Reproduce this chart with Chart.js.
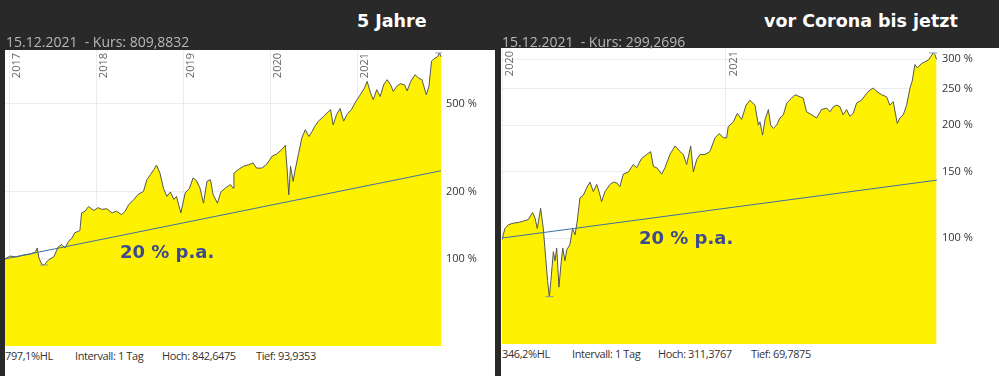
<!DOCTYPE html>
<html lang="de">
<head>
<meta charset="utf-8">
<title>5 Jahre / vor Corona bis jetzt</title>
<script src="https://cdn.jsdelivr.net/npm/chart.js@4.4.1/dist/chart.umd.min.js"></script>
<style>
  html, body { margin: 0; padding: 0; }
  body { width: 999px; height: 376px; background: #292929; position: relative; overflow: hidden; font-family: 'Open Sans', sans-serif; }
  .panel { position: absolute; background: #fff; }
  .abs { position: absolute; white-space: nowrap; }
  .title { color: #fff; font: bold 17.5px 'DejaVu Sans', sans-serif; line-height: 20px; }
  .kurs { color: #b8b8b8; font-size: 14px; line-height: 16px; }
  .info { color: #333; font-size: 11px; line-height: 13px; letter-spacing: -0.4px; }
  .pa { color: #3d4a8f; font: bold 18px 'DejaVu Sans', sans-serif; line-height: 20px; }
  canvas { position: absolute; }
</style>
</head>
<body>

<div class="panel" style="left:5px; top:50px; width:490px; height:326px;"></div>
<div class="panel" style="left:501px; top:48px; width:498px; height:328px;"></div>

<canvas id="chart5y" width="489" height="296" style="left:5px; top:50px;"></canvas>
<canvas id="chartCorona" width="497" height="296" style="left:502px; top:48px;"></canvas>

<div class="abs title" style="left:357px; top:11px;">5 Jahre</div>
<div class="abs title" style="left:764px; top:11px;">vor Corona bis jetzt</div>

<div class="abs kurs" style="left:6px; top:34px;">15.12.2021&nbsp; - Kurs: 809,8832</div>
<div class="abs kurs" style="left:502px; top:34px;">15.12.2021&nbsp; - Kurs: 299,2696</div>

<div class="abs pa" style="left:120px; top:242px;">20 % p.a.</div>
<div class="abs pa" style="left:639px; top:228px;">20 % p.a.</div>

<div class="abs info" style="left:5px; top:349px;">797,1%HL</div>
<div class="abs info" style="left:75px; top:349px;">Intervall: 1 Tag</div>
<div class="abs info" style="left:162px; top:349px;">Hoch: 842,6475</div>
<div class="abs info" style="left:256px; top:349px;">Tief: 93,9353</div>

<div class="abs info" style="left:502px; top:347px;">346,2%HL</div>
<div class="abs info" style="left:572px; top:347px;">Intervall: 1 Tag</div>
<div class="abs info" style="left:658px; top:347px;">Hoch: 311,3767</div>
<div class="abs info" style="left:751px; top:347px;">Tief: 69,7875</div>

<script>
// ---- 5 Jahre (dates as decimal years, values in % of start) ----
const dates5y = [
  2016.95, 2017.01, 2017.08, 2017.16, 2017.24, 2017.30, 2017.32, 2017.34, 2017.37, 2017.40,
  2017.45, 2017.51, 2017.56, 2017.60, 2017.64, 2017.68, 2017.72, 2017.75, 2017.81, 2017.83,
  2017.87, 2017.91, 2017.97, 2018.02, 2018.06, 2018.12, 2018.18, 2018.23, 2018.29, 2018.33,
  2018.37, 2018.43, 2018.48, 2018.54, 2018.58, 2018.62, 2018.66, 2018.69, 2018.73, 2018.77,
  2018.81, 2018.85, 2018.89, 2018.92, 2018.97, 2019.02, 2019.07, 2019.11, 2019.15, 2019.19,
  2019.23, 2019.27, 2019.31, 2019.34, 2019.39, 2019.43, 2019.48, 2019.54, 2019.57, 2019.58,
  2019.63, 2019.69, 2019.75, 2019.80, 2019.84, 2019.90, 2019.96, 2020.02, 2020.07, 2020.13,
  2020.17, 2020.19, 2020.21, 2020.23, 2020.26, 2020.28, 2020.32, 2020.36, 2020.40, 2020.44,
  2020.48, 2020.51, 2020.55, 2020.61, 2020.65, 2020.69, 2020.72, 2020.76, 2020.80, 2020.84,
  2020.88, 2020.93, 2020.97, 2021.03, 2021.08, 2021.11, 2021.15, 2021.18, 2021.22, 2021.26,
  2021.30, 2021.34, 2021.38, 2021.41, 2021.45, 2021.49, 2021.54, 2021.57, 2021.61, 2021.66,
  2021.70, 2021.74, 2021.79, 2021.82, 2021.85, 2021.89, 2021.92, 2021.94, 2021.96
];
const values5y = [
  100, 103, 102, 104, 105, 107.5, 112, 101, 95, 93.9,
  99, 102, 113, 116, 112, 120, 124, 131, 134, 161,
  164, 172, 165, 170, 167, 168, 161, 164, 158, 164,
  175, 185, 195, 201, 227, 239, 252, 264, 243, 208,
  191, 200, 185, 191, 161, 198, 208, 231, 225, 208,
  178, 223, 227, 195, 178, 200, 208, 216, 208, 243,
  252, 261, 265, 270, 256, 256, 267, 290, 296, 310,
  324, 256, 194, 261, 223, 248, 294, 350, 381, 355,
  375, 395, 416, 437, 453, 469, 400, 447, 474, 416,
  447, 469, 502, 546, 587, 628, 556, 520, 576, 537,
  606, 639, 606, 566, 597, 613, 606, 569, 628, 673,
  651, 639, 546, 597, 775, 799, 811, 842.6, 809.9
];
const years5y = [2017, 2018, 2019, 2020, 2021];
const yTicks5y = [100, 200, 500];
const trend5yX = [2016.95, 2021.96];
const trend5yY = [100, 249];
const hl5yX = [2021.94, 2017.40];
const hl5yY = [842.6, 93.9];

// ---- vor Corona bis jetzt ----
const datesCorona = [
  2019.997, 2020.010, 2020.025, 2020.048, 2020.070, 2020.093, 2020.115, 2020.134, 2020.145, 2020.155,
  2020.170, 2020.182, 2020.193, 2020.201, 2020.209, 2020.216, 2020.227, 2020.234, 2020.242, 2020.252,
  2020.261, 2020.269, 2020.279, 2020.287, 2020.301, 2020.313, 2020.324, 2020.334, 2020.346, 2020.361,
  2020.376, 2020.391, 2020.406, 2020.421, 2020.433, 2020.443, 2020.458, 2020.481, 2020.496, 2020.513,
  2020.525, 2020.540, 2020.563, 2020.585, 2020.600, 2020.622, 2020.645, 2020.663, 2020.675, 2020.690,
  2020.712, 2020.727, 2020.749, 2020.772, 2020.794, 2020.809, 2020.824, 2020.842, 2020.854, 2020.869,
  2020.884, 2020.906, 2020.928, 2020.951, 2020.970, 2020.988, 2021.003, 2021.010, 2021.033, 2021.051,
  2021.070, 2021.090, 2021.107, 2021.130, 2021.145, 2021.152, 2021.164, 2021.175, 2021.190, 2021.200,
  2021.212, 2021.227, 2021.242, 2021.257, 2021.272, 2021.294, 2021.309, 2021.331, 2021.346, 2021.361,
  2021.384, 2021.406, 2021.428, 2021.451, 2021.466, 2021.481, 2021.496, 2021.510, 2021.525, 2021.540,
  2021.555, 2021.570, 2021.585, 2021.607, 2021.630, 2021.645, 2021.660, 2021.675, 2021.697, 2021.719,
  2021.734, 2021.749, 2021.767, 2021.779, 2021.794, 2021.809, 2021.824, 2021.834, 2021.846, 2021.857,
  2021.876, 2021.891, 2021.906, 2021.918, 2021.928, 2021.936, 2021.943
];
const valuesCorona = [
  99, 106, 108.5, 109.6, 110, 111, 112, 117, 113, 106,
  120, 106, 88, 77, 69.8, 77, 92, 87, 94, 74,
  85, 94, 87, 93, 96, 106, 102, 111, 128, 130,
  136, 141, 133, 139, 132, 125, 133, 139, 141, 140,
  137, 148, 150, 157, 154, 163, 167, 170, 155, 154,
  148, 154, 167, 176, 170, 167, 157, 176, 150, 162,
  167, 167, 170, 185, 190, 185, 185, 198, 204, 215,
  207, 226, 233, 226, 200, 204, 188, 207, 220, 200,
  196, 200, 209, 213, 229, 236, 241, 238, 236, 217,
  213, 209, 220, 222, 217, 224, 226, 224, 213, 220,
  211, 215, 229, 233, 243, 248, 251, 246, 241, 238,
  226, 231, 202, 209, 213, 226, 251, 262, 290, 284,
  292, 295, 298, 305, 311.4, 308, 299.3
];
const yearsCorona = [2020, 2021];
const yTicksCorona = [100, 150, 200, 250, 300];
const trendCoronaX = [2019.997, 2021.945];
const trendCoronaY = [100, 142.7];
const hlCoronaX = [2021.928, 2020.209];
const hlCoronaY = [311.4, 69.8];

// rotated year labels at the top of each vertical grid line
const yearLabels = {
  id: 'yearLabels',
  afterDraw(chart) {
    const { ctx, chartArea, scales } = chart;
    ctx.save();
    ctx.font = '11px "Open Sans"';
    ctx.fillStyle = '#666';
    ctx.textAlign = 'right';
    ctx.textBaseline = 'top';
    scales.x.ticks.forEach(t => {
      const px = scales.x.getPixelForValue(t.value);
      ctx.save();
      ctx.translate(px + 2, chartArea.top + 3);
      ctx.rotate(-Math.PI / 2);
      ctx.fillText(String(t.value), 0, 0);
      ctx.restore();
    });
    ctx.restore();
  }
};

function toPoints(xs, ys) {
  return xs.map((x, i) => ({ x: x, y: ys[i] }));
}

function buildChart(id, cfg) {
  const gridColor = 'rgba(0, 0, 0, 0.07)';
  return new Chart(document.getElementById(id), {
    type: 'line',
    data: {
      datasets: [
        {
          data: toPoints(cfg.trendX, cfg.trendY),
          borderColor: '#3b6fa8',
          borderWidth: 1,
          pointRadius: 0,
          fill: false,
          order: 0
        },
        {
          data: toPoints(cfg.hlX, cfg.hlY),
          showLine: false,
          pointStyle: 'line',
          pointRadius: 4,
          borderColor: '#8a96a8',
          borderWidth: 1,
          order: 1
        },
        {
          data: toPoints(cfg.dates, cfg.values),
          borderColor: '#555',
          borderWidth: 1,
          backgroundColor: '#fff200',
          fill: 'start',
          pointRadius: 0,
          tension: 0,
          order: 2
        }
      ]
    },
    options: {
      responsive: false,
      animation: false,
      events: [],
      layout: { padding: 0, autoPadding: false },
      plugins: { legend: { display: false }, tooltip: { enabled: false } },
      scales: {
        x: {
          type: 'linear',
          min: cfg.xMin,
          max: cfg.xMax,
          z: 1,
          grid: { color: gridColor, drawTicks: false },
          border: { display: false },
          ticks: { display: false },
          afterBuildTicks: s => { s.ticks = cfg.years.map(v => ({ value: v })); },
          afterFit: s => {
            s.height = 0;
            s.paddingLeft = 0; s.paddingRight = 0;
          }
        },
        y: {
          type: 'logarithmic',
          position: 'right',
          min: cfg.yMin,
          max: cfg.yMax,
          z: 1,
          grid: { color: gridColor, drawTicks: false },
          border: { display: false },
          ticks: {
            color: '#333',
            font: { family: 'Open Sans', size: 11 },
            padding: cfg.tickPad,
            autoSkip: false,
            callback: v => v + ' %'
          },
          afterBuildTicks: s => { s.ticks = cfg.yTicks.map(v => ({ value: v })); },
          afterFit: s => {
            s.width = cfg.axisWidth;
            s.paddingTop = 0; s.paddingBottom = 0;
          }
        }
      }
    },
    plugins: [yearLabels]
  });
}

buildChart('chart5y', {
  dates: dates5y, values: values5y, years: years5y, yTicks: yTicks5y,
  trendX: trend5yX, trendY: trend5yY, hlX: hl5yX, hlY: hl5yY,
  xMin: 2016.95, xMax: 2021.97, yMin: 40.6, yMax: 869, axisWidth: 52, tickPad: 4
});

buildChart('chartCorona', {
  dates: datesCorona, values: valuesCorona, years: yearsCorona, yTicks: yTicksCorona,
  trendX: trendCoronaX, trendY: trendCoronaY, hlX: hlCoronaX, hlY: hlCoronaY,
  xMin: 2019.997, xMax: 2021.945, yMin: 52.2, yMax: 321, axisWidth: 62, tickPad: 5
});
</script>
</body>
</html>
